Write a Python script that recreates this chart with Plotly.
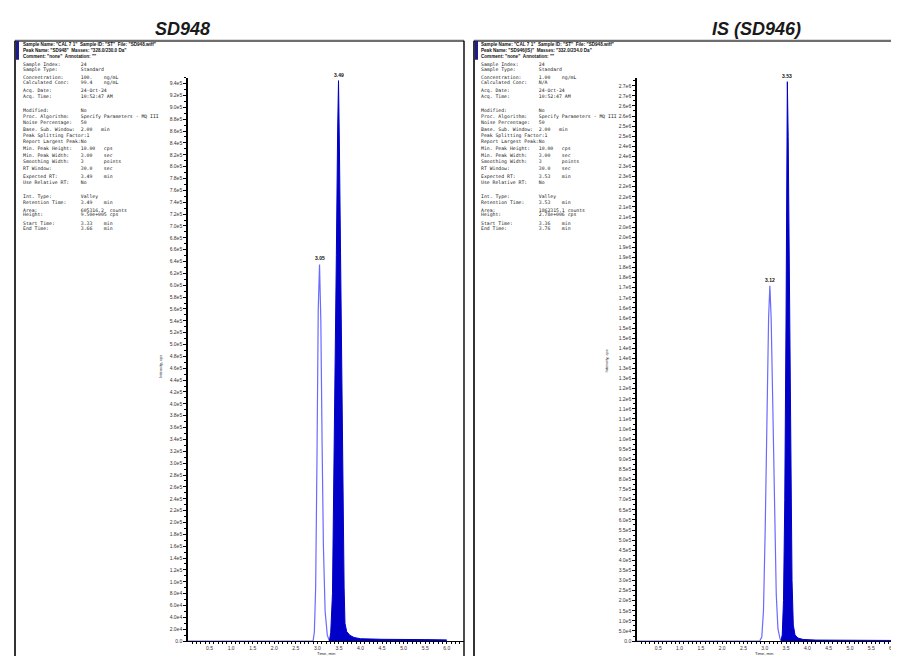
import math
import plotly.graph_objects as go

W, H = 899, 656

# ---------------- data ----------------
# SD948 panel: light outline peak and filled main peak (time in min, intensity in cps)
sd948_peak1_time = [0.0, 2.90, 2.93, 2.96, 2.99, 3.02, 3.05, 3.08, 3.11, 3.14, 3.18, 3.23, 3.28]
sd948_peak1_int = [0, 0, 1.5e4, 9.0e4, 3.0e5, 5.6e5, 6.35e5, 5.4e5, 3.3e5, 1.6e5, 5.0e4, 1.0e4, 0]

sd948_peak2_time = [3.28, 3.31, 3.35, 3.38, 3.41, 3.44, 3.47, 3.49, 3.51, 3.54, 3.58, 3.60,
                    3.62, 3.64, 3.68, 3.75, 3.85, 4.00, 4.50, 5.50, 6.00]
sd948_peak2_int = [0, 1.5e4, 8.0e4, 2.4e5, 4.3e5, 6.5e5, 8.6e5, 9.45e5, 8.4e5, 6.2e5, 4.2e5, 2.5e5,
                   9.0e4, 3.0e4, 1.6e4, 1.0e4, 6.0e3, 4.0e3, 3.0e3, 2.5e3, 2.0e3]

# IS (SD946) panel
is_peak1_time = [0.0, 2.88, 2.93, 2.97, 3.01, 3.05, 3.09, 3.12, 3.15, 3.19, 3.23, 3.27, 3.31, 3.36, 3.40]
is_peak1_int = [0, 0, 2.0e4, 1.5e5, 5.5e5, 1.1e6, 1.6e6, 1.76e6, 1.6e6, 1.15e6, 6.0e5, 2.3e5, 6.0e4, 1.0e4, 0]

is_peak2_time = [3.38, 3.41, 3.44, 3.47, 3.50, 3.52, 3.53, 3.55, 3.58, 3.61, 3.64, 3.67,
                 3.71, 3.78, 3.90, 4.20, 5.00, 6.20]
is_peak2_int = [0, 3.0e4, 2.0e5, 7.0e5, 1.6e6, 2.4e6, 2.77e6, 2.5e6, 1.6e6, 8.0e5, 3.0e5, 8.0e4,
                3.0e4, 1.5e4, 8.0e3, 5.0e3, 4.0e3, 3.0e3]

sd948_peak_labels = ["3.05", "3.49"]
is_peak_labels = ["3.12", "3.53"]

x_tick_vals = [0.5, 1.0, 1.5, 2.0, 2.5, 3.0, 3.5, 4.0, 4.5, 5.0, 5.5, 6.0]
x_tick_text = ["0.5", "1.0", "1.5", "2.0", "2.5", "3.0", "3.5", "4.0", "4.5", "5.0", "5.5", "6.0"]

sd948_y_step = 2e4
sd948_y_top_tick = 9.4e5
is_y_step = 5e4
is_y_top_tick = 2.75e6

sd948_info = [
    ("Sample Index:", "24"),
    ("Sample Type:", "Standard"),
    ("Concentration:", "100.    ng/mL"),
    ("Calculated Conc:", "99.4    ng/mL"),
    ("Acq. Date:", "24-Oct-24"),
    ("Acq. Time:", "10:52:47 AM"),
    ("Modified:", "No"),
    ("Proc. Algorithm:", "Specify Parameters - MQ III"),
    ("Noise Percentage:", "50"),
    ("Base. Sub. Window:", "2.00   min"),
    ("Peak Splitting Factor:", "1"),
    ("Report Largest Peak:", "No"),
    ("Min. Peak Height:", "10.00   cps"),
    ("Min. Peak Width:", "3.00    sec"),
    ("Smoothing Width:", "3       points"),
    ("RT Window:", "30.0    sec"),
    ("Expected RT:", "3.49    min"),
    ("Use Relative RT:", "No"),
    ("Int. Type:", "Valley"),
    ("Retention Time:", "3.49    min"),
    ("Area:", "605316.2  counts"),
    ("Height:", "9.50e+005 cps"),
    ("Start Time:", "3.33    min"),
    ("End Time:", "3.66    min"),
]
is_info = [
    ("Sample Index:", "24"),
    ("Sample Type:", "Standard"),
    ("Concentration:", "1.00    ng/mL"),
    ("Calculated Conc:", "N/A"),
    ("Acq. Date:", "24-Oct-24"),
    ("Acq. Time:", "10:52:47 AM"),
    ("Modified:", "No"),
    ("Proc. Algorithm:", "Specify Parameters - MQ III"),
    ("Noise Percentage:", "50"),
    ("Base. Sub. Window:", "2.00   min"),
    ("Peak Splitting Factor:", "1"),
    ("Report Largest Peak:", "No"),
    ("Min. Peak Height:", "10.00   cps"),
    ("Min. Peak Width:", "3.00    sec"),
    ("Smoothing Width:", "3       points"),
    ("RT Window:", "30.0    sec"),
    ("Expected RT:", "3.53    min"),
    ("Use Relative RT:", "No"),
    ("Int. Type:", "Valley"),
    ("Retention Time:", "3.53    min"),
    ("Area:", "1862315.1 counts"),
    ("Height:", "2.78e+006 cps"),
    ("Start Time:", "3.36    min"),
    ("End Time:", "3.76    min"),
]
sd948_header = ['Sample Name: "CAL 7 1"  Sample ID: "ST"  File: "SD948.wiff"',
                'Peak Name: "SD948"  Masses: "328.0/230.0 Da"',
                'Comment: "none"  Annotation: ""']
is_header = ['Sample Name: "CAL 7 1"  Sample ID: "ST"  File: "SD948.wiff"',
             'Peak Name: "SD946(IS)"  Masses: "332.0/234.0 Da"',
             'Comment: "none"  Annotation: ""']

info_rows_y = [57, 62, 70, 75, 83, 89, 103, 109, 116, 122, 129, 135, 142, 148, 155, 161,
               169, 175, 189, 195, 203, 208, 216, 222]
header_rows_y = [37, 43, 49]


# ---------------- helpers ----------------
def px(x):
    return x / W


def py(y):
    return 1 - y / H


def sci_label(v):
    if v == 0:
        return "0.0"
    e = int(math.floor(math.log10(v) + 1e-9))
    m = math.floor(v / 10 ** e * 10 + 1e-6) / 10
    return f"{m:.1f}e{e}"


def y_ticks(step, top):
    n = int(round(top / step))
    vals = [i * step for i in range(n + 1)]
    return vals, [sci_label(v) for v in vals]


sd_yv, sd_yt = y_ticks(sd948_y_step, sd948_y_top_tick)
is_yv, is_yt = y_ticks(is_y_step, is_y_top_tick)
sd_minor = [v + sd948_y_step / 2 for v in sd_yv]
is_minor = [v + is_y_step / 2 for v in is_yv]
x_minor = [i / 10 for i in range(1, 64)]

fig = go.Figure()

light = "#6a6aff"
dark = "#0000c8"

fig.add_trace(go.Scatter(x=sd948_peak1_time, y=sd948_peak1_int, mode="lines",
                         line=dict(color=light, width=1.2), xaxis="x", yaxis="y",
                         showlegend=False, hoverinfo="skip"))
fig.add_trace(go.Scatter(x=sd948_peak2_time, y=sd948_peak2_int, mode="lines", fill="tozeroy",
                         fillcolor=dark, line=dict(color=dark, width=1), xaxis="x", yaxis="y",
                         showlegend=False, hoverinfo="skip"))
fig.add_trace(go.Scatter(x=is_peak1_time, y=is_peak1_int, mode="lines",
                         line=dict(color=light, width=1.2), xaxis="x2", yaxis="y2",
                         showlegend=False, hoverinfo="skip"))
fig.add_trace(go.Scatter(x=is_peak2_time, y=is_peak2_int, mode="lines", fill="tozeroy",
                         fillcolor=dark, line=dict(color=dark, width=1), xaxis="x2", yaxis="y2",
                         showlegend=False, hoverinfo="skip"))

tickfont = dict(family="Arial, Liberation Sans", size=5, color="#3a3030")
ydom = [py(636), py(70)]


def xaxis_cfg(domain, rng, anchor):
    return dict(domain=domain, range=rng, anchor=anchor, showgrid=False, zeroline=False,
                showline=True, linecolor="black", linewidth=1.2, ticks="outside", ticklen=2,
                tickwidth=1, tickcolor="black", tickmode="array", tickvals=x_tick_vals,
                ticktext=x_tick_text, tickfont=tickfont, fixedrange=True,
                minor=dict(tickvals=x_minor, ticks="outside", ticklen=1.5, tickcolor="black"))


def yaxis_cfg(rng, anchor, vals, texts, minor):
    return dict(domain=ydom, range=rng, anchor=anchor, showgrid=False, zeroline=False,
                showline=True, linecolor="black", linewidth=1.6, ticks="outside", ticklen=3,
                tickwidth=1, tickcolor="black", tickmode="array", tickvals=vals, ticktext=texts,
                tickfont=tickfont, fixedrange=True,
                minor=dict(tickvals=minor, ticks="outside", ticklen=2, tickcolor="black"))


fig.update_layout(
    width=W, height=H, margin=dict(l=0, r=0, t=0, b=0),
    paper_bgcolor="white", plot_bgcolor="white", showlegend=False,
    xaxis=xaxis_cfg([px(180), px(456)], [0, 6.4], "y"),
    yaxis=yaxis_cfg([0, 9.5e5], "x", sd_yv, sd_yt, sd_minor),
    xaxis2=xaxis_cfg([px(629), 1.0], [0, 6.34], "y2"),
    yaxis2=yaxis_cfg([0, 2.79e6], "x2", is_yv, is_yt, is_minor),
)

shapes = []
# panel frames
for x0, x1 in [(7, 456), (466, 899)]:
    shapes.append(dict(type="line", xref="paper", yref="paper", x0=px(x0), x1=px(x1),
                       y0=py(33), y1=py(33), line=dict(color="#6e6e6e", width=2.2)))
    shapes.append(dict(type="line", xref="paper", yref="paper", x0=px(x0), x1=px(x0),
                       y0=py(33), y1=0, line=dict(color="black", width=1.6)))
    shapes.append(dict(type="rect", xref="paper", yref="paper", x0=px(x0 + 1), x1=px(x0 + 4),
                       y0=py(52), y1=py(33), fillcolor="#1c1c8c", line=dict(width=0)))
shapes.append(dict(type="line", xref="paper", yref="paper", x0=px(456), x1=px(456),
                   y0=py(33), y1=0, line=dict(color="black", width=1.4)))
fig.update_layout(shapes=shapes)

ann = []
# titles
ann.append(dict(text="SD948", x=px(174), y=py(21), xref="paper", yref="paper", showarrow=False,
                xanchor="center", yanchor="middle",
                font=dict(family="Liberation Sans, Arial", size=18, color="#1a1a1a",
                          weight="bold", style="italic")))
ann.append(dict(text="IS (SD946)", x=px(748), y=py(21), xref="paper", yref="paper", showarrow=False,
                xanchor="center", yanchor="middle",
                font=dict(family="Liberation Sans, Arial", size=18, color="#1a1a1a",
                          weight="bold", style="italic")))

mono = "DejaVu Sans Mono, Liberation Mono, monospace"
nb = "\u00a0"


def info_block(x0, header, info):
    for txt, yy in zip(header, header_rows_y):
        ann.append(dict(text="<b>" + txt.replace(" ", nb) + "</b>", x=px(x0), y=py(yy),
                        xref="paper", yref="paper", showarrow=False, xanchor="left",
                        yanchor="middle", font=dict(family="Liberation Sans, Arial", size=4.6,
                                                    color="#111")))
    for (lab, val), yy in zip(info, info_rows_y):
        line = lab.ljust(20) + val
        ann.append(dict(text=line.replace(" ", nb), x=px(x0), y=py(yy), xref="paper",
                        yref="paper", showarrow=False, xanchor="left", yanchor="middle",
                        font=dict(family=mono, size=4.8, color="#222")))


info_block(13, sd948_header, sd948_info)
info_block(471, is_header, is_info)

# axis titles
for xx, yy in [(148, 360), (598, 355)]:
    ann.append(dict(text="Intensity, cps", x=px(xx), y=py(yy), xref="paper", yref="paper",
                    showarrow=False, textangle=-90, font=dict(family="Arial", size=4, color="#222")))
for xx in [318, 768]:
    ann.append(dict(text="Time, min", x=px(xx), y=py(653), xref="paper", yref="paper",
                    showarrow=False, font=dict(family="Arial", size=4.2, color="#222")))

# peak labels
peak_font = dict(family="Arial", size=5, color="#111")
for lab, t, v in zip(sd948_peak_labels, [sd948_peak1_time[6], sd948_peak2_time[7]],
                     [sd948_peak1_int[6], sd948_peak2_int[7]]):
    ann.append(dict(text="<b>" + lab + "</b>", x=t, y=v, xref="x", yref="y", showarrow=False,
                    yanchor="bottom", yshift=1, font=peak_font))
for lab, t, v in zip(is_peak_labels, [is_peak1_time[7], is_peak2_time[6]],
                     [is_peak1_int[7], is_peak2_int[6]]):
    ann.append(dict(text="<b>" + lab + "</b>", x=t, y=v, xref="x2", yref="y2", showarrow=False,
                    yanchor="bottom", yshift=1, font=peak_font))

fig.update_layout(annotations=ann)

fig.write_html("out.html")
